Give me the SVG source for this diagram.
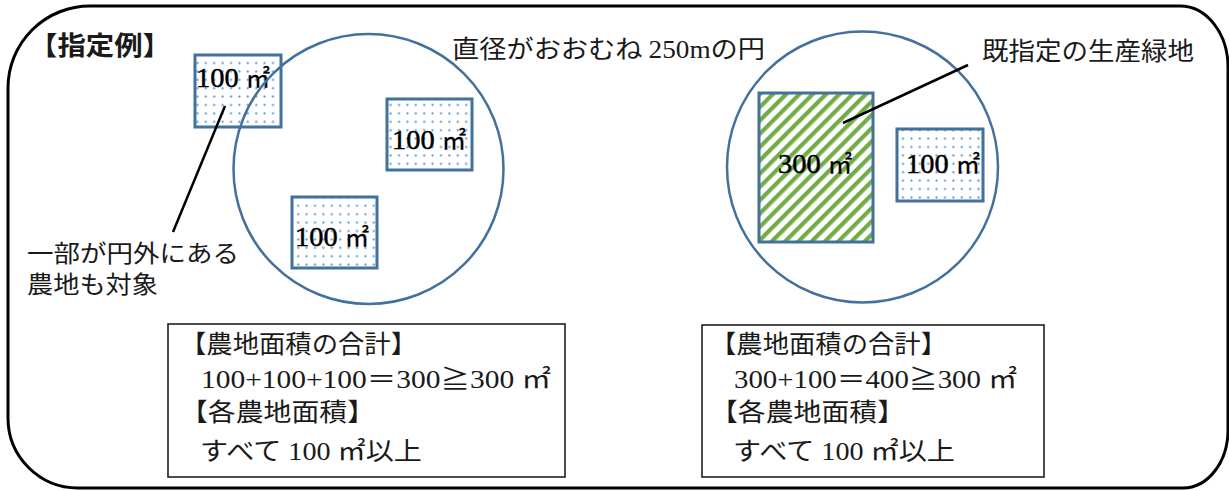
<svg xmlns="http://www.w3.org/2000/svg" width="1229" height="491" viewBox="0 0 1229 491">
<defs>
<pattern id="dots" patternUnits="userSpaceOnUse" width="8.4" height="8.4">
<rect width="8.4" height="8.4" fill="#fff"/>
<circle cx="4.2" cy="4.2" r="1.1" fill="#5b9bd5"/>
</pattern>
<pattern id="hatch" patternUnits="userSpaceOnUse" width="9.4" height="9.4" patternTransform="rotate(45)">
<rect width="9.4" height="9.4" fill="#fff"/>
<rect width="4.2" height="9.4" fill="#70ad47"/>
</pattern>
</defs>
<style>
.frame{fill:none;stroke:#000;stroke-width:3}
.plot{stroke:#41719c;stroke-width:3}
.circ{fill:none;stroke:#41719c;stroke-width:2.5}
.box{fill:#fff;stroke:#111;stroke-width:1.5}
.lead{stroke:#000;stroke-width:2.5;fill:none}
.jp{font-family:"Noto Sans CJK JP",sans-serif;font-size:25px;fill:#1a1a1a}
.sm{font-size:24px}
.num{font-family:"Liberation Serif","Noto Sans CJK JP",serif;font-size:25px}
.lbl{font-family:"Liberation Serif",serif;font-size:28px;fill:#000;stroke:#000;stroke-width:0.5}
.u{font-family:"Noto Sans CJK JP",sans-serif;font-size:24px;stroke-width:0.3}
</style>
<rect width="1229" height="491" fill="#fff"/>
<path id="frame" class="frame" d="M90,6 H1180 A48,61 0 0 1 1228,67 V430 A45,58 0 0 1 1183,488 H78 A70,70 0 0 1 8,418 V88 A82,82 0 0 1 90,6 Z"/>
<text id="title" class="jp" x="29" y="55" style="font-size:26px;font-weight:bold" textLength="142" lengthAdjust="spacingAndGlyphs">【指定例】</text>

<g id="plot-a1"><rect class="plot" x="195" y="55" width="86" height="72" fill="url(#dots)"/><text class="lbl" x="196" y="87" textLength="74" lengthAdjust="spacingAndGlyphs">100 <tspan class="u">㎡</tspan></text></g>
<g id="plot-a2"><rect class="plot" x="387" y="99" width="85" height="71" fill="url(#dots)"/><text class="lbl" x="392" y="149" textLength="74" lengthAdjust="spacingAndGlyphs">100 <tspan class="u">㎡</tspan></text></g>
<g id="plot-a3"><rect class="plot" x="292" y="197" width="85" height="71" fill="url(#dots)"/><text class="lbl" x="295" y="245.5" textLength="74" lengthAdjust="spacingAndGlyphs">100 <tspan class="u">㎡</tspan></text></g>
<g id="circle-a"><circle class="circ" cx="368.5" cy="169" r="135"/></g>

<g id="plot-b1"><rect class="plot" x="759" y="93" width="114" height="149" fill="url(#hatch)"/><text class="lbl" x="778" y="172.5" textLength="74" lengthAdjust="spacingAndGlyphs">300 <tspan class="u">㎡</tspan></text></g>
<g id="plot-b2"><rect class="plot" x="897" y="129" width="86" height="72" fill="url(#dots)"/><text class="lbl" x="906" y="173" textLength="74" lengthAdjust="spacingAndGlyphs">100 <tspan class="u">㎡</tspan></text></g>
<g id="circle-b"><circle class="circ" cx="862.5" cy="167" r="135.5"/></g>

<g id="label-circle"><text class="jp" x="452" y="58" textLength="313" lengthAdjust="spacingAndGlyphs">直径がおおむね <tspan class="num">250m</tspan>の円</text></g>
<g id="label-green"><text class="jp" x="982" y="60" textLength="212" lengthAdjust="spacingAndGlyphs">既指定の生産緑地</text></g>
<g id="label-outside"><text class="jp sm" x="27" y="262" textLength="212" lengthAdjust="spacingAndGlyphs">一部が円外にある</text><text class="jp sm" x="27" y="293" textLength="131" lengthAdjust="spacingAndGlyphs">農地も対象</text></g>

<g id="box-a">
<rect class="box" x="168" y="324" width="397" height="153"/>
<text class="jp" x="180" y="353" textLength="237" lengthAdjust="spacingAndGlyphs">【農地面積の合計】</text>
<text class="jp" x="201" y="388" textLength="350" lengthAdjust="spacingAndGlyphs"><tspan class="num">100+100+100</tspan>＝<tspan class="num">300</tspan>≧<tspan class="num">300 </tspan>㎡</text>
<text class="jp" x="180" y="421" textLength="195" lengthAdjust="spacingAndGlyphs">【各農地面積】</text>
<text class="jp" x="200" y="460" textLength="222" lengthAdjust="spacingAndGlyphs">すべて<tspan class="num"> 100 </tspan>㎡以上</text>
</g>
<g id="box-b">
<rect class="box" x="702" y="325" width="342" height="152"/>
<text class="jp" x="710" y="353" textLength="237" lengthAdjust="spacingAndGlyphs">【農地面積の合計】</text>
<text class="jp" x="734" y="388" textLength="283" lengthAdjust="spacingAndGlyphs"><tspan class="num">300+100</tspan>＝<tspan class="num">400</tspan>≧<tspan class="num">300 </tspan>㎡</text>
<text class="jp" x="710" y="421" textLength="195" lengthAdjust="spacingAndGlyphs">【各農地面積】</text>
<text class="jp" x="733" y="460" textLength="222" lengthAdjust="spacingAndGlyphs">すべて<tspan class="num"> 100 </tspan>㎡以上</text>
</g>

<g id="connectors">
<line class="lead" x1="225" y1="106" x2="173" y2="232"/>
<line class="lead" x1="843" y1="123" x2="968" y2="65"/>
</g>
</svg>
